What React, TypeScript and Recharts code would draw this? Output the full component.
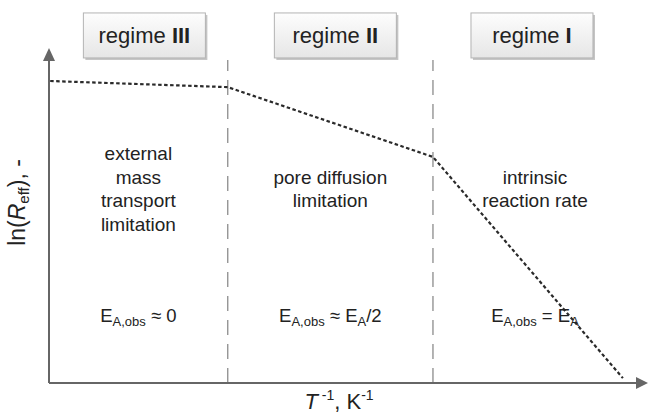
import React from "react";
import { LineChart, Line, XAxis, YAxis, ReferenceLine, ReferenceDot } from "recharts";

// schematic Arrhenius plot, arbitrary units
const invT = [0.02, 3.04, 6.53, 9.76];
const lnR = [9.35, 9.16, 7.0, 0.15];
const regimeBreaks = [3.04, 6.53];
const regimeNames = ["III", "II", "I"];
const mechanisms = [
  ["external", "mass", "transport", "limitation"],
  ["pore diffusion", "limitation"],
  ["intrinsic", "reaction rate"],
];
const activation = [
  { op: "≈", rhs: "0", sub: "", tail: "" },
  { op: "≈", rhs: "E", sub: "A", tail: "/2" },
  { op: "=", rhs: "E", sub: "A", tail: "" },
];

const data = invT.map((x, i) => ({ x, y: lnR[i] }));
const bounds = [0, ...regimeBreaks, 10];
const centers = regimeNames.map((_, i) => (bounds[i] + bounds[i + 1]) / 2);

const FONT = "'Liberation Sans', Arial, sans-serif";
const INK = "#222";
const boxNudge = [6, 5, -3];

function RegimeBox({ cx, cy, name, nudge }: any) {
  const w = 122;
  const h = 45;
  const x0 = cx + nudge;
  return (
    <g>
      <rect x={x0 - w / 2 + 2} y={cy - h / 2 + 2} width={w} height={h} fill="#c4c4c4" />
      <rect x={x0 - w / 2} y={cy - h / 2} width={w} height={h} fill="url(#boxFill)" stroke="#b3b3b3" strokeWidth={1} />
      <text x={x0} y={cy + 8} textAnchor="middle" fontFamily={FONT} fontSize={22} fill={INK}>
        regime <tspan fontWeight="bold">{name}</tspan>
      </text>
    </g>
  );
}

function TextBlock({ cx, cy, lines }: any) {
  const step = 23.5;
  const top = cy - ((lines.length - 1) * step) / 2;
  return (
    <text textAnchor="middle" fontFamily={FONT} fontSize={19} fill={INK}>
      {lines.map((t: string, i: number) => (
        <tspan key={i} x={cx} y={top + i * step + 6.5}>{t}</tspan>
      ))}
    </text>
  );
}

function ActivationLabel({ cx, cy, a }: any) {
  return (
    <text x={cx} y={cy + 4} textAnchor="middle" fontFamily={FONT} fontSize={18.5} fill={INK}>
      E
      <tspan fontSize={13} dy={4}>A,obs</tspan>
      <tspan dy={-4}>{` ${a.op} ${a.rhs}`}</tspan>
      {a.sub ? <tspan fontSize={13} dy={4}>{a.sub}</tspan> : null}
      {a.tail ? <tspan dy={-4}>{a.tail}</tspan> : null}
    </text>
  );
}

function ArrowRight({ cx, cy }: any) {
  return <path d={`M${cx - 1},${cy - 6} L${cx + 11},${cy} L${cx - 1},${cy + 6} Z`} fill="#666" />;
}

function ArrowUp({ cx, cy }: any) {
  return <path d={`M${cx - 6},${cy + 1} L${cx},${cy - 12} L${cx + 6},${cy + 1} Z`} fill="#666" />;
}

function YTitle({ viewBox }: any) {
  const x = viewBox.x + 25;
  const y = viewBox.y + viewBox.height / 2 - 19;
  return (
    <text x={x} y={y} transform={`rotate(-90 ${x} ${y})`} textAnchor="middle" fontFamily={FONT} fontSize={23} fill={INK}>
      ln(<tspan fontStyle="italic">R</tspan>
      <tspan fontSize={15} dy={4}>eff</tspan>
      <tspan dy={-4}>), -</tspan>
    </text>
  );
}

function XTitle({ viewBox }: any) {
  const x = viewBox.x + viewBox.width / 2 - 4;
  const y = 409;
  return (
    <text x={x} y={y} textAnchor="middle" fontFamily={FONT} fontSize={22} fill={INK}>
      <tspan fontStyle="italic">T</tspan>
      <tspan fontSize={14} dy={-9}> -1</tspan>
      <tspan dy={9}>, K</tspan>
      <tspan fontSize={14} dy={-9}>-1</tspan>
    </text>
  );
}

export default function App() {
  return (
    <div style={{ position: "absolute", left: 0, top: 0, background: "#fff" }}>
      <LineChart width={649} height={416} data={data} margin={{ top: 60, right: 12, left: 0, bottom: 0 }}>
        <defs>
          <linearGradient id="boxFill" x1="0" y1="0" x2="0" y2="1">
            <stop offset="0%" stopColor="#fdfdfd" />
            <stop offset="100%" stopColor="#e6e6e6" />
          </linearGradient>
        </defs>
        <XAxis
          dataKey="x"
          type="number"
          domain={[0, 10]}
          allowDataOverflow
          height={33}
          tick={false}
          tickLine={false}
          axisLine={{ stroke: "#666", strokeWidth: 2 }}
          label={<XTitle />}
        />
        <YAxis
          type="number"
          domain={[0, 10]}
          allowDataOverflow
          width={49}
          tick={false}
          tickLine={false}
          axisLine={{ stroke: "#666", strokeWidth: 2 }}
          label={<YTitle />}
        />
        {regimeBreaks.map((b) => (
          <ReferenceLine key={b} x={b} stroke="#8c8c8c" strokeWidth={1.3} strokeDasharray="15 9" />
        ))}
        <Line
          type="linear"
          dataKey="y"
          stroke="#2a2a2a"
          strokeWidth={2.2}
          strokeDasharray="3.5 2.5"
          dot={false}
          activeDot={false}
          isAnimationActive={false}
        />
        <ReferenceDot x={10} y={0} r={0} ifOverflow="visible" shape={(p: any) => <ArrowRight {...p} />} />
        <ReferenceDot x={0} y={10} r={0} ifOverflow="visible" shape={(p: any) => <ArrowUp {...p} />} />
        {regimeNames.map((n, i) => (
          <ReferenceDot key={"box" + n} x={centers[i]} y={10.76} r={0} ifOverflow="visible"
            shape={(p: any) => <RegimeBox {...p} name={n} nudge={boxNudge[i]} />} />
        ))}
        {mechanisms.map((lines, i) => (
          <ReferenceDot key={"mech" + i} x={centers[i]} y={6} r={0} ifOverflow="visible"
            shape={(p: any) => <TextBlock {...p} lines={lines} />} />
        ))}
        {activation.map((a, i) => (
          <ReferenceDot key={"ea" + i} x={centers[i]} y={2} r={0} ifOverflow="visible"
            shape={(p: any) => <ActivationLabel {...p} a={a} />} />
        ))}
      </LineChart>
    </div>
  );
}
